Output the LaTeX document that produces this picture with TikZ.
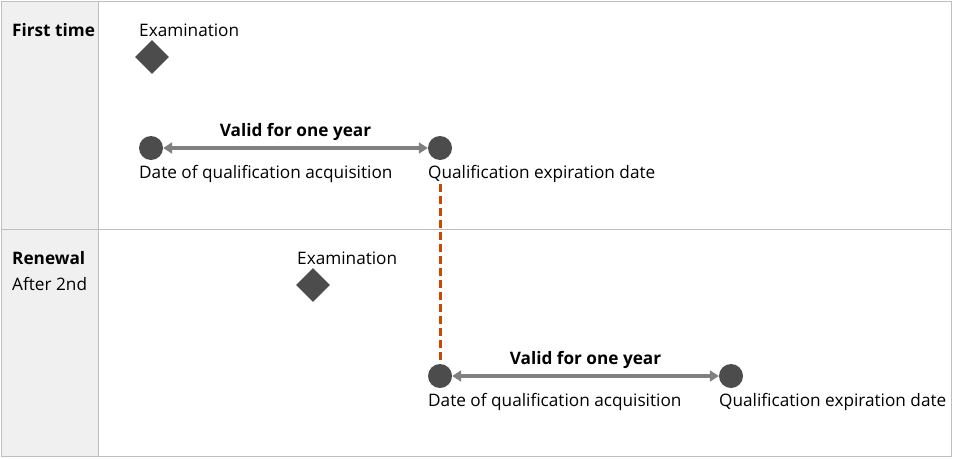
\documentclass[tikz,border=0pt]{standalone}
\usepackage{fontspec}
\setmainfont{Open Sans}
\usetikzlibrary{arrows.meta,shapes.geometric}
\begin{document}
\begin{tikzpicture}[x=1pt,y=-1pt,
  txt/.style={font=\fontsize{17.2}{19}\selectfont,anchor=west,inner sep=0pt},
  btxt/.style={font=\fontsize{17.2}{19}\selectfont\bfseries,inner sep=0pt},
  dot/.style={circle,fill=black!70,minimum size=24pt,inner sep=0pt},
  dia/.style={diamond,fill=black!70,minimum size=34pt,inner sep=0pt},
  span/.style={draw=black!50,line width=3.5pt,{Triangle[length=9pt,width=11pt]}-{Triangle[length=9pt,width=11pt]}},
  link/.style={draw=orange!70!red!80!black,line width=3pt,dash pattern=on 8pt off 4pt}]
\useasboundingbox (0,0) rectangle (960,458);
\fill[black!6] (1,1) rectangle (98,456);
\draw[black!25,line width=1pt] (1,1) rectangle (951,456);
\draw[black!25,line width=1pt] (98,1) -- (98,456);
\draw[black!25,line width=1pt] (1,229) -- (951,229);
\node[btxt,anchor=west] (ft) at (12,30) {First time};
\node[txt] (rn) at (12,258) {\bfseries Renewal};
\node[txt] (a2) at (12,284) {After 2nd};
\node[txt] (e1) at (139,30) {Examination};
\node[dia] (d1) at (152,57) {};
\node[dot] (c1) at (151,148) {};
\node[dot] (c2) at (440,148) {};
\draw[span] (c1) -- node[btxt,above=6pt] (v1) {Valid for one year} (c2);
\node[txt] (l1) at (139,174) {Date of qualification acquisition};
\node[txt] (l2) at (428,174) {Qualification expiration date};
\node[txt] (e2) at (297,258) {Examination};
\node[dia] (d2) at (313,285) {};
\node[dot] (c3) at (440,376) {};
\node[dot] (c4) at (731,376) {};
\draw[span] (c3) -- node[btxt,above=6pt] (v2) {Valid for one year} (c4);
\node[txt] (l3) at (428,402) {Date of qualification acquisition};
\node[txt] (l4) at (719,402) {Qualification expiration date};
\draw[link] (c2 |- 0,184) -- (c3.north);
\end{tikzpicture}
\end{document}
